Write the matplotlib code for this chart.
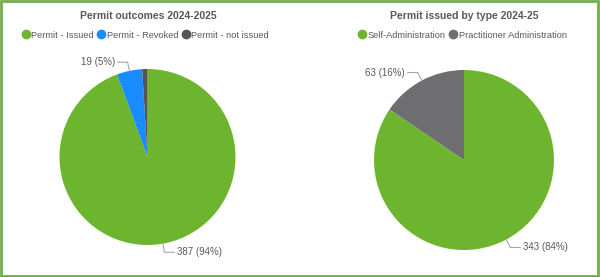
import numpy as np
import matplotlib
matplotlib.use("Agg")
import matplotlib.pyplot as plt
from matplotlib.lines import Line2D
from matplotlib.patches import Rectangle

plt.rcParams["font.family"] = ["Liberation Sans", "DejaVu Sans"]

# left chart
outcome_labels = ["Permit - Issued", "Permit - Revoked", "Permit - not issued"]
outcome_values = [387, 19, 4]
outcome_colors = ["#6DB52E", "#1A8CFF", "#555555"]

# right chart
type_labels = ["Self-Administration", "Practitioner Administration"]
type_values = [343, 63]
type_colors = ["#6DB52E", "#6E6E70"]

TXT = "#595959"
LINE = "#A6A6A6"
W, H = 600, 277

fig = plt.figure(figsize=(6, 2.77), dpi=100)


def px_axes(cx, cy, r):
    # square axes centered on a pixel position (y from top)
    return fig.add_axes([(cx - r) / W, (H - cy - r) / H, 2 * r / W, 2 * r / H])


def draw_pie(ax, values, colors, label_specs):
    wedges, _ = ax.pie(values, colors=colors, startangle=90, counterclock=False,
                       radius=1, wedgeprops=dict(linewidth=0))
    ax.set_xlim(-1, 1)
    ax.set_ylim(-1, 1)
    ax.set_aspect("auto")
    total = sum(values)
    for idx, (rad, hlen) in label_specs.items():
        w = wedges[idx]
        ang = np.deg2rad((w.theta1 + w.theta2) / 2)
        x0, y0 = np.cos(ang), np.sin(ang)
        x1, y1 = x0 * (1 + rad), y0 * (1 + rad)
        x2 = x1 + hlen
        ax.plot([x0, x1, x2], [y0, y1, y1], color=LINE, lw=0.8, clip_on=False)
        pct = round(100 * values[idx] / total)
        ax.text(x2 + np.sign(hlen) * 0.03, y1, f"{values[idx]} ({pct}%)",
                ha="left" if hlen > 0 else "right", va="center",
                fontsize=7, color=TXT)
    return wedges


ax1 = px_axes(147.5, 157, 88)
draw_pie(ax1, outcome_values, outcome_colors, {0: (0.1, 0.11), 1: (0.1, -0.11)})

ax2 = px_axes(464, 160, 90)
draw_pie(ax2, type_values, type_colors, {0: (0.1, 0.11), 1: (0.1, -0.11)})

fig.text(148 / W, 1 - 16 / H, "Permit outcomes 2024-2025", ha="center", va="center",
         fontsize=7.5, fontweight="bold", color=TXT)
fig.text(464 / W, 1 - 16 / H, "Permit issued by type 2024-25", ha="center", va="center",
         fontsize=7.5, fontweight="bold", color=TXT)


def legend(labels, colors, cx):
    handles = [Line2D([], [], marker="o", ls="", markersize=6, markerfacecolor=c,
                      markeredgecolor=c) for c in colors]
    lg = fig.legend(handles, labels, loc="center", bbox_to_anchor=(cx / W, 1 - 35 / H),
                    ncol=len(labels), frameon=False, fontsize=6.7, handlelength=0.6,
                    handletextpad=0.3, columnspacing=0.5, borderpad=0)
    for t in lg.get_texts():
        t.set_color(TXT)


legend(outcome_labels, outcome_colors, 146)
legend(type_labels, type_colors, 463)

fig.patches.append(Rectangle((0.002, 0.004), 0.995, 0.992, transform=fig.transFigure,
                             fill=False, edgecolor="#70AD47", lw=2))

fig.savefig("out.png", dpi=100)
